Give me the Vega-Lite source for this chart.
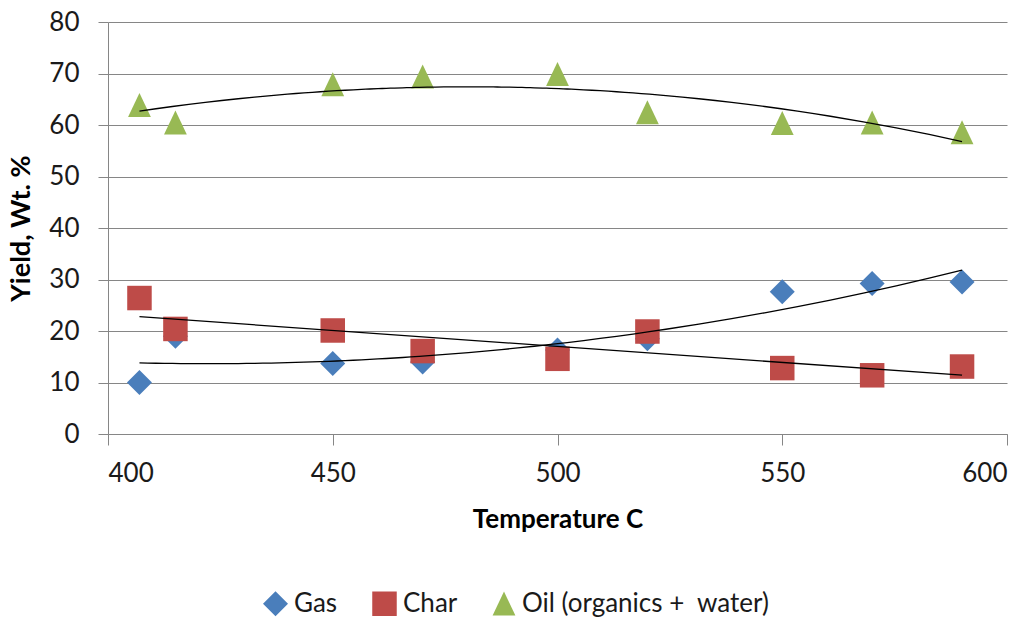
{
  "$schema": "https://vega.github.io/schema/vega-lite/v6.json",
  "width": 899,
  "height": 412,
  "autosize": {"type": "none"},
  "padding": {"left": 108, "top": 22, "right": 28, "bottom": 183},
  "background": "white",
  "config": {
    "font": "Lato",
    "view": {"stroke": null},
    "axis": {"labelFont": "Lato", "titleFont": "Lato"}
  },
  "data": {
    "values": [
      {"t": 407, "s": "Gas", "y": 10.0},
      {"t": 415, "s": "Gas", "y": 19.0},
      {"t": 450, "s": "Gas", "y": 13.7},
      {"t": 470, "s": "Gas", "y": 14.0},
      {"t": 500, "s": "Gas", "y": 16.3},
      {"t": 520, "s": "Gas", "y": 18.5},
      {"t": 550, "s": "Gas", "y": 27.6},
      {"t": 570, "s": "Gas", "y": 29.2},
      {"t": 590, "s": "Gas", "y": 29.5},
      {"t": 407, "s": "Char", "y": 26.4},
      {"t": 415, "s": "Char", "y": 20.4},
      {"t": 450, "s": "Char", "y": 20.1},
      {"t": 470, "s": "Char", "y": 16.1},
      {"t": 500, "s": "Char", "y": 14.6},
      {"t": 520, "s": "Char", "y": 19.9},
      {"t": 550, "s": "Char", "y": 12.8},
      {"t": 570, "s": "Char", "y": 11.4},
      {"t": 590, "s": "Char", "y": 13.1},
      {"t": 407, "s": "Oil (organics +\u00a0 water)", "y": 63.9},
      {"t": 415, "s": "Oil (organics +\u00a0 water)", "y": 60.5},
      {"t": 450, "s": "Oil (organics +\u00a0 water)", "y": 67.9},
      {"t": 470, "s": "Oil (organics +\u00a0 water)", "y": 69.4},
      {"t": 500, "s": "Oil (organics +\u00a0 water)", "y": 69.9},
      {"t": 520, "s": "Oil (organics +\u00a0 water)", "y": 62.5},
      {"t": 550, "s": "Oil (organics +\u00a0 water)", "y": 60.4},
      {"t": 570, "s": "Oil (organics +\u00a0 water)", "y": 60.5},
      {"t": 590, "s": "Oil (organics +\u00a0 water)", "y": 58.6}
    ]
  },
  "layer": [
    {
      "mark": {"type": "point", "filled": true, "opacity": 1},
      "encoding": {
        "x": {
          "field": "t", "type": "quantitative",
          "scale": {"domain": [400, 600], "nice": false, "zero": false},
          "axis": {
            "title": "Temperature C", "values": [400, 450, 500, 550, 600],
            "grid": false, "domainColor": "#868686", "tickColor": "#868686",
            "tickSize": 11, "labelFontSize": 26, "labelColor": "#1a1a1a",
            "labelPadding": 15, "titleFontSize": 26, "titleFontWeight": "bold",
            "titleColor": "#000000", "titlePadding": 20
          }
        },
        "y": {
          "field": "y", "type": "quantitative",
          "scale": {"domain": [0, 80], "nice": false},
          "axis": {
            "title": "Yield, Wt. %", "values": [0, 10, 20, 30, 40, 50, 60, 70, 80],
            "grid": true, "gridColor": "#868686", "gridWidth": 1,
            "domainColor": "#868686", "tickColor": "#868686", "tickSize": 10,
            "labelFontSize": 26, "labelColor": "#1a1a1a", "labelPadding": 19,
            "titleFontSize": 27, "titleFontWeight": "bold", "titleColor": "#000000",
            "titlePadding": 13
          }
        },
        "color": {
          "field": "s", "type": "nominal",
          "scale": {"domain": ["Gas", "Char", "Oil (organics +\u00a0 water)"], "range": ["#4a7ebb", "#be4b48", "#98b954"]},
          "legend": {
            "title": null, "orient": "none", "direction": "horizontal",
            "legendX": 154, "legendY": 568, "labelFontSize": 26, "labelLimit": 600,
            "labelColor": "#1a1a1a", "symbolSize": 400, "columnPadding": 33,
            "labelOffset": 5
          }
        },
        "shape": {
          "field": "s", "type": "nominal",
          "scale": {"domain": ["Gas", "Char", "Oil (organics +\u00a0 water)"], "range": ["diamond", "square", "M0,-1L0.95,1L-0.95,1Z"]},
          "legend": null
        },
        "size": {
          "field": "s", "type": "nominal",
          "scale": {"domain": ["Gas", "Char", "Oil (organics +\u00a0 water)"], "range": [625, 576, 600]},
          "legend": null
        }
      }
    },
    {
      "transform": [
        {"filter": "datum.s === 'Gas'"},
        {"regression": "y", "on": "t", "method": "poly", "order": 2, "extent": [407, 590]}
      ],
      "mark": {"type": "line", "color": "#000000", "strokeWidth": 1.3},
      "encoding": {"x": {"field": "t", "type": "quantitative"}, "y": {"field": "y", "type": "quantitative"}}
    },
    {
      "transform": [
        {"filter": "datum.s === 'Char'"},
        {"regression": "y", "on": "t", "method": "linear", "extent": [407, 590]}
      ],
      "mark": {"type": "line", "color": "#000000", "strokeWidth": 1.3},
      "encoding": {"x": {"field": "t", "type": "quantitative"}, "y": {"field": "y", "type": "quantitative"}}
    },
    {
      "transform": [
        {"filter": "datum.s === 'Char' ? false : datum.t > 0 && indexof(datum.s, 'Oil') === 0"},
        {"regression": "y", "on": "t", "method": "poly", "order": 2, "extent": [407, 590]}
      ],
      "mark": {"type": "line", "color": "#000000", "strokeWidth": 1.3},
      "encoding": {"x": {"field": "t", "type": "quantitative"}, "y": {"field": "y", "type": "quantitative"}}
    }
  ]
}
